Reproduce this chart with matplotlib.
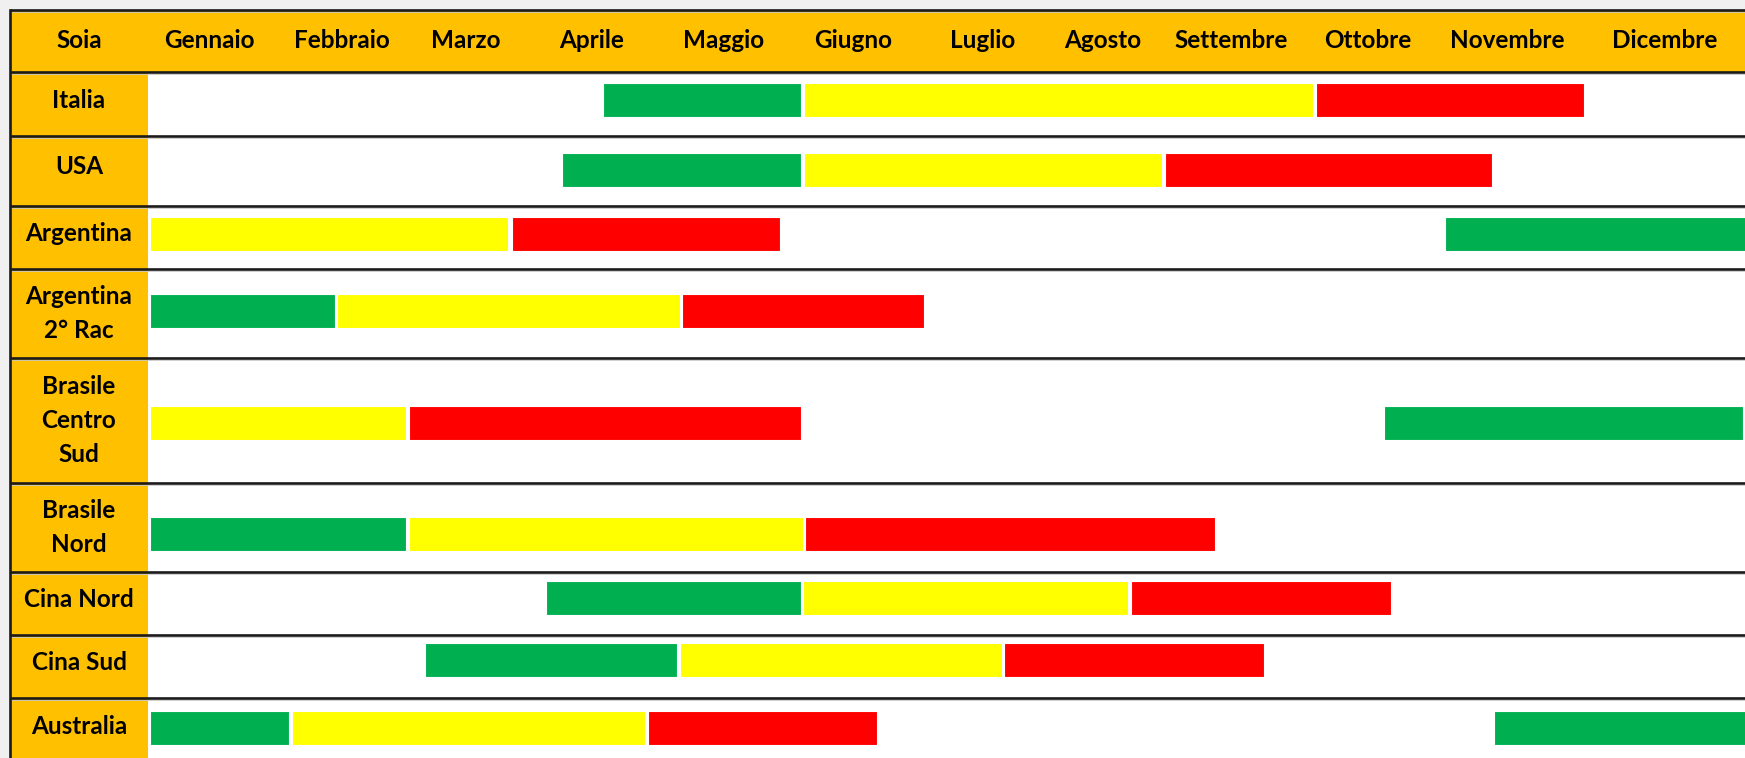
import matplotlib
matplotlib.use("Agg")
import matplotlib.pyplot as plt
from matplotlib.patches import Rectangle

# dati: periodi in mesi (0 = inizio gennaio, 12 = fine dicembre)
paesi = ["Italia", "USA", "Argentina", "Argentina\n2° Rac", "Brasile\nCentro\nSud",
         "Brasile\nNord", "Cina Nord", "Cina Sud", "Australia"]
mesi = ["Gennaio", "Febbraio", "Marzo", "Aprile", "Maggio", "Giugno", "Luglio",
        "Agosto", "Settembre", "Ottobre", "Novembre", "Dicembre"]

semina = [[(3.48, 4.98)], [(3.17, 4.98)], [(9.85, 12.2)], [(0.05, 1.45)],
          [(9.39, 12.1)], [(0.05, 1.99)], [(3.05, 4.98)], [(2.13, 4.04)],
          [(0.05, 1.10), (10.22, 12.2)]]
crescita = [[(5.0, 8.85)], [(5.0, 7.71)], [(0.05, 2.76)], [(1.47, 4.06)],
            [(0.05, 1.99)], [(2.01, 4.99)], [(4.99, 7.45)], [(4.06, 6.50)],
            [(1.13, 3.80)]]
raccolta = [[(8.87, 10.9)], [(7.73, 10.2)], [(2.79, 4.82)], [(4.08, 5.91)],
            [(2.01, 4.98)], [(5.01, 8.11)], [(7.47, 9.44)], [(6.51, 8.48)],
            [(3.82, 5.55)]]

# layout (pixel verticali, figura 1745x758)
righe = [72, 136, 206, 269, 358, 483, 572, 635, 698, 763]
barre_y = [99.5, 170, 234, 311, 423, 534, 597.5, 660, 728]
mesi_x = [0.5, 1.5, 2.44, 3.39, 4.39, 5.37, 6.35, 7.26, 8.23, 9.26, 10.32, 11.51]

W, H = 1745, 758
x0, mw = 143.1, 132.2  # pixel di inizio gennaio, larghezza di un mese
def px(p):
    return (p - x0) / mw

fig = plt.figure(figsize=(W / 100, H / 100), dpi=100, facecolor="#f0f0f0")
ax = fig.add_axes([0, 0, 1, 1])
ax.set_xlim(px(0), px(W))
ax.set_ylim(H, 0)
ax.axis("off")

oro = "#FFC000"
font = dict(family=["Lato", "DejaVu Sans"], fontweight="bold", fontsize=17.5, color="black")

# corpo tabella
ax.add_patch(Rectangle((px(10), 10), px(W + 5) - px(10), H, facecolor="white", edgecolor="none", zorder=0))
ax.add_patch(Rectangle((px(10), 10), px(W + 5) - px(10), righe[0] - 10, facecolor=oro, edgecolor="none", zorder=1))
ax.add_patch(Rectangle((px(10), righe[0]), px(148) - px(10), H, facecolor=oro, edgecolor="none", zorder=1))

# intestazione
ax.text(px(79), 41, "Soia", ha="center", va="center", **font, zorder=5)
for m, xm in zip(mesi, mesi_x):
    ax.text(xm, 41, m, ha="center", va="center", **font, zorder=5)

# etichette righe
for i, nome in enumerate(paesi):
    yc = (righe[i] + righe[i + 1]) / 2
    if "\n" not in nome:
        yc -= 4
    ax.text(px(79), yc, nome, ha="center", va="center", linespacing=1.6, **font, zorder=5)

# barre
for fasi, col in [(semina, "#00B050"), (crescita, "#FFFF00"), (raccolta, "#FF0000")]:
    for i, periodi in enumerate(fasi):
        for a, b in periodi:
            ax.barh(barre_y[i], b - a, left=a, height=34, color=col,
                    edgecolor="white", linewidth=0.8, zorder=3)

# linee
for y in [10] + righe[:-1]:
    ax.plot([px(10), px(W + 5)], [y, y], color="#1a1a1a", lw=1.9, zorder=4, solid_capstyle="butt")
    ax.plot([px(10), px(W + 5)], [y + 2, y + 2], color="#c8c8c8", lw=0.6, zorder=4)
ax.plot([px(10), px(10)], [10, H], color="#1a1a1a", lw=1.9, zorder=4)

fig.savefig("out.png", dpi=100, facecolor=fig.get_facecolor())
